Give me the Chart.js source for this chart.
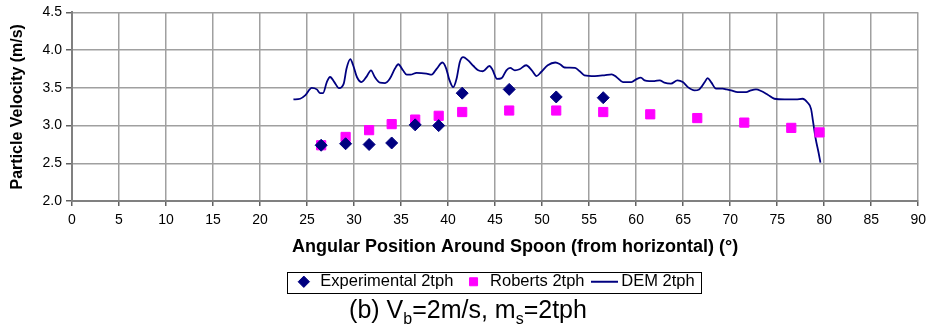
<!DOCTYPE html>
<html>
<head>
<meta charset="utf-8">
<script src="https://cdn.jsdelivr.net/npm/chart.js@4.4.1/dist/chart.umd.min.js"></script>
<style>
  html, body { margin: 0; padding: 0; background: #fff; }
  #wrap { position: relative; width: 932px; height: 334px; }
  #caption {
    position: absolute; left: 0; width: 936px; top: 295px;
    text-align: center; font-family: 'Liberation Sans', Arial, sans-serif;
    font-size: 25px; color: #000;
  }
  #caption sub { font-size: 16px; }
</style>
</head>
<body>
<div id="wrap">
  <canvas id="velocityChart"></canvas>
  <div id="caption">(b) V<sub>b</sub>=2m/s, m<sub>s</sub>=2tph</div>
</div>
<script>
// Experimental 2tph
const expAngle = [26.5, 29.1, 31.6, 34.0, 36.5, 39.0, 41.5, 46.5, 51.5, 56.5];
const expVel = [2.74, 2.76, 2.75, 2.77, 3.01, 3.00, 3.43, 3.48, 3.38, 3.37];

// Roberts 2tph
const robAngle = [26.5, 29.1, 31.6, 34.0, 36.5, 39.0, 41.5, 46.5, 51.5, 56.5, 61.5, 66.5, 71.5, 76.5, 79.5];
const robVel = [2.74, 2.85, 2.94, 3.02, 3.08, 3.13, 3.18, 3.20, 3.20, 3.18, 3.15, 3.10, 3.04, 2.97, 2.91];

// DEM 2tph
const demAngle = [23.55, 24.27, 24.8, 25.5, 26.04, 26.4, 26.7, 27.1, 27.45, 27.9, 28.4, 28.9, 29.2, 29.6, 29.9,
    30.3, 30.8, 31.35, 31.8, 32.2, 32.76, 33.3, 33.8, 34.35, 34.7, 35.2, 35.6, 36.0, 36.65, 37.7, 38.25,
    38.8, 39.4, 39.8, 40.1, 40.55, 40.9, 41.25, 41.6, 42.1, 42.7, 43.2, 43.7, 44.4, 44.7, 45.2, 45.7,
    46.2, 46.6, 47.1, 47.6, 48.3, 48.9, 49.4, 49.9, 50.6, 51.4, 51.9, 52.4, 53.5, 54.0, 54.5, 55.6,
    56.6, 57.4, 57.9, 58.6, 59.5, 60.0, 60.5, 60.9, 61.4, 61.95, 62.5, 63.0, 63.7, 64.4, 64.96, 65.5,
    66.2, 66.7, 67.3, 67.6, 67.97, 68.5, 69.2, 69.6, 70.1, 70.8, 71.7, 72.2, 72.75, 73.3, 74.0, 74.7,
    75.8, 77.0, 77.7, 78.2, 78.6, 78.8, 79.1, 79.4, 79.6];
const demVel = [3.347, 3.356, 3.40, 3.50, 3.48, 3.43, 3.43, 3.577, 3.644, 3.577, 3.497, 3.556, 3.756, 3.88, 3.80,
    3.644, 3.577, 3.653, 3.733, 3.644, 3.569, 3.564, 3.62, 3.756, 3.813, 3.733, 3.676, 3.675, 3.70, 3.69, 3.676,
    3.756, 3.836, 3.756, 3.62, 3.51, 3.62, 3.844, 3.907, 3.867, 3.79, 3.733, 3.72, 3.79, 3.747, 3.62, 3.63,
    3.733, 3.764, 3.733, 3.747, 3.80, 3.733, 3.657, 3.71, 3.80, 3.836, 3.813, 3.77, 3.764, 3.72, 3.667, 3.657,
    3.667, 3.68, 3.644, 3.577, 3.577, 3.613, 3.636, 3.60, 3.59, 3.59, 3.60, 3.569, 3.556, 3.60, 3.577, 3.51,
    3.467, 3.48, 3.577, 3.63, 3.577, 3.49, 3.49, 3.48, 3.467, 3.444, 3.444, 3.467, 3.48, 3.458, 3.409, 3.356,
    3.347, 3.347, 3.356, 3.31, 3.222, 3.067, 2.823, 2.644, 2.51];

const toPoints = (xs, ys) => xs.map((x, i) => ({ x: x, y: ys[i] }));

// long line sample for the DEM legend entry
function makeLineSwatch() {
    const c = document.createElement('canvas');
    c.width = 27;
    c.height = 4;
    const g = c.getContext('2d');
    g.fillStyle = '#000080';
    g.fillRect(0, 1, 27, 2);
    return c;
}

// draws the frame round the legend items
const legendBorder = {
    id: 'legendBorder',
    afterDraw(chart) {
        const boxes = chart.legend && chart.legend.legendHitBoxes;
        if (!boxes || !boxes.length) return;
        const left = Math.min(...boxes.map(b => b.left)) - 9;
        const right = Math.max(...boxes.map(b => b.left + b.width)) + 6;
        const top = Math.min(...boxes.map(b => b.top)) - 2;
        const bottom = Math.max(...boxes.map(b => b.top + b.height)) + 2;
        const ctx = chart.ctx;
        ctx.save();
        ctx.strokeStyle = '#000';
        ctx.lineWidth = 1;
        ctx.strokeRect(Math.round(left) + 0.5, Math.round(top) + 0.5, Math.round(right - left), Math.round(bottom - top));
        ctx.restore();
    }
};

function initVelocityChart() {
    Chart.defaults.font.family = "'Liberation Sans', Arial, sans-serif";
    Chart.defaults.color = '#000';

    const ctx = document.getElementById('velocityChart').getContext('2d');
    new Chart(ctx, {
        type: 'scatter',
        data: {
            datasets: [{
                label: 'Experimental 2tph',
                data: toPoints(expAngle, expVel),
                pointStyle: 'rectRot',
                pointRadius: 6,
                backgroundColor: '#000080',
                borderColor: '#000080',
                borderWidth: 1
            }, {
                label: 'Roberts 2tph',
                data: toPoints(robAngle, robVel),
                pointStyle: 'rect',
                pointRadius: 6.5,
                backgroundColor: '#ff00ff',
                borderColor: '#ff00ff',
                borderWidth: 1
            }, {
                label: 'DEM 2tph',
                data: toPoints(demAngle, demVel),
                showLine: true,
                pointStyle: makeLineSwatch(),
                pointRadius: 0,
                borderColor: '#000080',
                backgroundColor: '#000080',
                borderWidth: 1.8,
                cubicInterpolationMode: 'monotone'
            }]
        },
        options: {
            responsive: true,
            maintainAspectRatio: false,
            animation: false,
            layout: { padding: { top: 10, right: 12, left: 0, bottom: 34 } },
            scales: {
                x: {
                    type: 'linear',
                    min: 0,
                    max: 90,
                    ticks: { stepSize: 5, font: { size: 14 }, padding: 6 },
                    grid: { color: '#a0a0a0', lineWidth: 1.5, tickColor: '#606060', tickLength: 5 },
                    border: { color: '#808080', width: 2 },
                    title: {
                        display: true,
                        // leading spaces push the centred title a little right, as in the original
                        text: '        Angular Position Around Spoon (from horizontal) (°)',
                        font: { size: 18, weight: 'bold' },
                        padding: { top: 1, bottom: 4 }
                    }
                },
                y: {
                    min: 2.0,
                    max: 4.5,
                    ticks: { stepSize: 0.5, font: { size: 14 }, padding: 4, callback: v => v.toFixed(1) },
                    grid: { color: '#a0a0a0', lineWidth: 1.5, tickColor: '#606060', tickLength: 6 },
                    border: { color: '#808080', width: 2 },
                    title: {
                        display: true,
                        text: 'Particle Velocity (m/s)',
                        font: { size: 16, weight: 'bold' },
                        padding: { top: 8, bottom: 4 }
                    },
                    afterFit: scale => { scale.width = 72; }
                }
            },
            plugins: {
                legend: {
                    position: 'bottom',
                    fullSize: false,
                    labels: {
                        usePointStyle: true,
                        boxHeight: 8,
                        padding: 12,
                        font: { size: 16.5 }
                    }
                },
                tooltip: { enabled: false }
            }
        },
        plugins: [legendBorder]
    });
}

document.addEventListener('DOMContentLoaded', initVelocityChart);
</script>
</body>
</html>
